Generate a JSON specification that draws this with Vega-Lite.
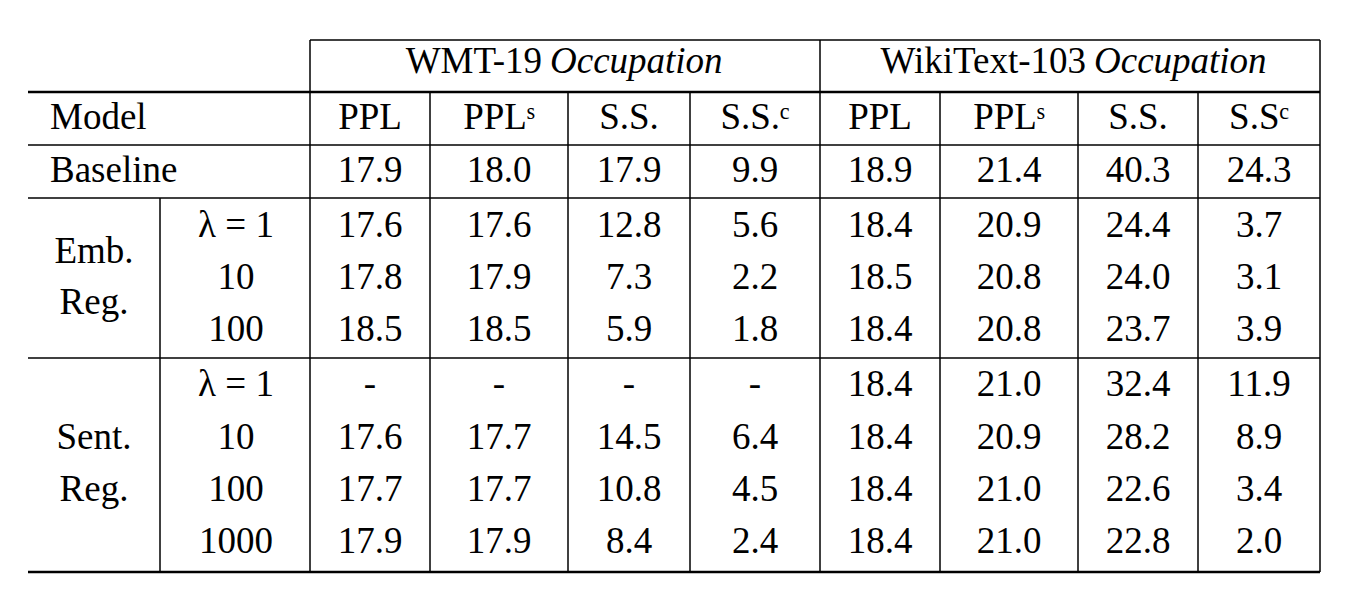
{
"$schema":"https://vega.github.io/schema/vega-lite/v6.json",
"width":1352,"height":602,"padding":0,
"autosize":{"type":"fit","contains":"padding"},
"background":"white",
"config":{"view":{"stroke":null},"text":{"font":"Liberation Serif, DejaVu Serif, serif","fontSize":37}},
"datasets":{
"lines":[
{"x":310,"x2":1320,"y":40,"y2":40,"w":1.5},
{"x":28,"x2":1320,"y":92,"y2":92,"w":2.5},
{"x":28,"x2":1320,"y":145,"y2":145,"w":1.5},
{"x":28,"x2":1320,"y":198,"y2":198,"w":1.5},
{"x":28,"x2":1320,"y":358,"y2":358,"w":1.5},
{"x":28,"x2":1320,"y":572,"y2":572,"w":2.5},
{"x":160,"x2":160,"y":198,"y2":572,"w":1.5},
{"x":310,"x2":310,"y":40,"y2":572,"w":1.5},
{"x":430,"x2":430,"y":92,"y2":572,"w":1.5},
{"x":568,"x2":568,"y":92,"y2":572,"w":1.5},
{"x":690,"x2":690,"y":92,"y2":572,"w":1.5},
{"x":820,"x2":820,"y":40,"y2":572,"w":1.5},
{"x":940,"x2":940,"y":92,"y2":572,"w":1.5},
{"x":1078,"x2":1078,"y":92,"y2":572,"w":1.5},
{"x":1198,"x2":1198,"y":92,"y2":572,"w":1.5},
{"x":1320,"x2":1320,"y":40,"y2":572,"w":1.5}
],
"cells":[
{"t":"WMT-19","x":542,"y":62,"a":"right","s":"normal"},
{"t":"Occupation","x":550,"y":62,"a":"left","s":"italic"},
{"t":"WikiText-103","x":1086,"y":62,"a":"right","s":"normal"},
{"t":"Occupation","x":1094,"y":62,"a":"left","s":"italic"},
{"t":"Model","x":50,"y":118,"a":"left","s":"normal"},
{"t":"PPL","x":370,"y":118,"a":"center","s":"normal"},
{"t":"PPLˢ","x":499,"y":118,"a":"center","s":"normal"},
{"t":"S.S.","x":629,"y":118,"a":"center","s":"normal"},
{"t":"S.S.ᶜ","x":755,"y":118,"a":"center","s":"normal"},
{"t":"PPL","x":880,"y":118,"a":"center","s":"normal"},
{"t":"PPLˢ","x":1009,"y":118,"a":"center","s":"normal"},
{"t":"S.S.","x":1138,"y":118,"a":"center","s":"normal"},
{"t":"S.Sᶜ","x":1259,"y":118,"a":"center","s":"normal"},
{"t":"Baseline","x":50,"y":171,"a":"left","s":"normal"},
{"t":"Emb.","x":94,"y":252,"a":"center","s":"normal"},
{"t":"Reg.","x":94,"y":303,"a":"center","s":"normal"},
{"t":"Sent.","x":94,"y":438,"a":"center","s":"normal"},
{"t":"Reg.","x":94,"y":490,"a":"center","s":"normal"},
{"t":"λ = 1","x":236,"y":226,"a":"center","s":"normal"},
{"t":"10","x":236,"y":278,"a":"center","s":"normal"},
{"t":"100","x":236,"y":330,"a":"center","s":"normal"},
{"t":"λ = 1","x":236,"y":385,"a":"center","s":"normal"},
{"t":"10","x":236,"y":438,"a":"center","s":"normal"},
{"t":"100","x":236,"y":490,"a":"center","s":"normal"},
{"t":"1000","x":236,"y":542,"a":"center","s":"normal"}
],
"nums":[
{"y":171,"v":["17.9","18.0","17.9","9.9","18.9","21.4","40.3","24.3"]},
{"y":226,"v":["17.6","17.6","12.8","5.6","18.4","20.9","24.4","3.7"]},
{"y":278,"v":["17.8","17.9","7.3","2.2","18.5","20.8","24.0","3.1"]},
{"y":330,"v":["18.5","18.5","5.9","1.8","18.4","20.8","23.7","3.9"]},
{"y":385,"v":["-","-","-","-","18.4","21.0","32.4","11.9"]},
{"y":438,"v":["17.6","17.7","14.5","6.4","18.4","20.9","28.2","8.9"]},
{"y":490,"v":["17.7","17.7","10.8","4.5","18.4","21.0","22.6","3.4"]},
{"y":542,"v":["17.9","17.9","8.4","2.4","18.4","21.0","22.8","2.0"]}
]
},
"layer":[
{"data":{"name":"lines"},"mark":{"type":"rule","color":"black"},
"encoding":{"x":{"field":"x","type":"quantitative","scale":{"domain":[0,1352],"nice":false,"zero":false},"axis":null},
"x2":{"field":"x2"},
"y":{"field":"y","type":"quantitative","scale":{"domain":[0,602],"reverse":true,"nice":false,"zero":false},"axis":null},
"y2":{"field":"y2"},
"strokeWidth":{"field":"w","type":"quantitative","scale":null}}},
{"data":{"name":"cells"},"transform":[{"filter":"datum.s=='normal' && datum.a=='left'"}],
"mark":{"type":"text","align":"left","baseline":"middle","color":"black"},
"encoding":{"x":{"field":"x","type":"quantitative"},"y":{"field":"y","type":"quantitative"},"text":{"field":"t"}}},
{"data":{"name":"cells"},"transform":[{"filter":"datum.s=='normal' && datum.a=='right'"}],
"mark":{"type":"text","align":"right","baseline":"middle","color":"black"},
"encoding":{"x":{"field":"x","type":"quantitative"},"y":{"field":"y","type":"quantitative"},"text":{"field":"t"}}},
{"data":{"name":"cells"},"transform":[{"filter":"datum.s=='normal' && datum.a=='center'"}],
"mark":{"type":"text","align":"center","baseline":"middle","color":"black"},
"encoding":{"x":{"field":"x","type":"quantitative"},"y":{"field":"y","type":"quantitative"},"text":{"field":"t"}}},
{"data":{"name":"cells"},"transform":[{"filter":"datum.s=='italic'"}],
"mark":{"type":"text","fontStyle":"italic","align":"left","baseline":"middle","color":"black"},
"encoding":{"x":{"field":"x","type":"quantitative"},"y":{"field":"y","type":"quantitative"},"text":{"field":"t"}}},
{"data":{"name":"nums"},
"transform":[{"flatten":["v"]},{"window":[{"op":"row_number","as":"c"}],"groupby":["y"]},
{"lookup":"c","from":{"data":{"values":[{"c":1,"x":370},{"c":2,"x":499},{"c":3,"x":629},{"c":4,"x":755},{"c":5,"x":880},{"c":6,"x":1009},{"c":7,"x":1138},{"c":8,"x":1259}]},"key":"c","fields":["x"]}}],
"mark":{"type":"text","align":"center","baseline":"middle","color":"black"},
"encoding":{"x":{"field":"x","type":"quantitative"},"y":{"field":"y","type":"quantitative"},"text":{"field":"v"}}}
]
}
